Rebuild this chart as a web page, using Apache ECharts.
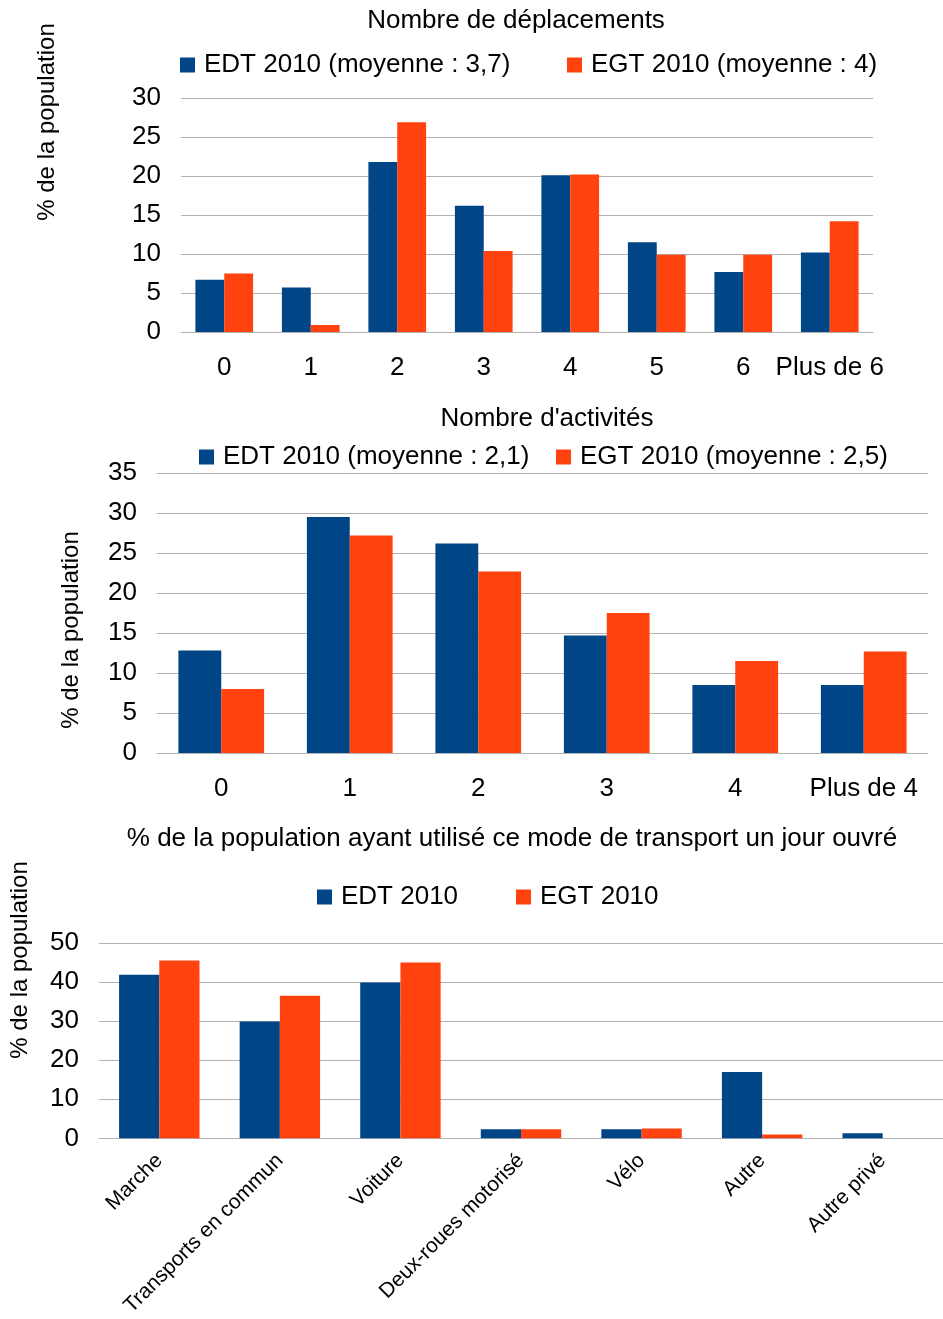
<!DOCTYPE html>
<html>
<head>
<meta charset="UTF-8">
<title>Déplacements EDT / EGT 2010</title>
<script type="text/javascript" src="https://cdn.jsdelivr.net/npm/echarts@6/dist/echarts.min.js"></script>
<style>
  body { margin: 0; background: #fff; }
</style>
</head>
<body>
	<div id="main" style="height:1319px;width:943px"></div>
<script type="text/javascript">
// les données
var catDepl = ['0', '1', '2', '3', '4', '5', '6', 'Plus de 6'];
var edtDepl = [6.7, 5.7, 21.8, 16.2, 20.1, 11.5, 7.7, 10.2];
var egtDepl = [7.5, 0.9, 26.9, 10.4, 20.2, 9.9, 9.9, 14.2];

var catActi = ['0', '1', '2', '3', '4', 'Plus de 4'];
var edtActi = [12.8, 29.5, 26.2, 14.7, 8.5, 8.5];
var egtActi = [8.0, 27.2, 22.7, 17.5, 11.5, 12.7];

var catMode = ['Marche', 'Transports en commun', 'Voiture', 'Deux-roues motorisé', 'Vélo', 'Autre', 'Autre privé'];
var edtMode = [41.9, 29.9, 39.9, 2.3, 2.3, 17.0, 1.3];
var egtMode = [45.5, 36.5, 45.0, 2.3, 2.5, 1.0, 0];

var titres = ['Nombre de déplacements', "Nombre d'activités", '% de la population ayant utilisé ce mode de transport un jour ouvré'];
var nomsEdt = ['EDT 2010 (moyenne : 3,7)', 'EDT 2010 (moyenne : 2,1)', 'EDT 2010'];
var nomsEgt = ['EGT 2010 (moyenne : 4)', 'EGT 2010 (moyenne : 2,5)', 'EGT 2010'];

var bleu = '#004586';
var rouge = '#ff420e';
var gris = '#b3b3b3';
var police = 'Liberation Sans';

var myChart = echarts.init(document.getElementById('main'));

function xAxe(idx, cats, rot) {
  return {
    type: 'category',
    gridIndex: idx,
    data: cats,
    axisLine: { lineStyle: { color: gris } },
    axisTick: { length: 10, lineStyle: { color: gris } },
    axisLabel: {
      color: '#000',
      fontFamily: police,
      fontSize: rot ? 21 : 26,
      rotate: rot || 0,
      margin: rot ? 19 : 23,
      interval: 0
    }
  };
}
function yAxe(idx, max) {
  return {
    type: 'value',
    gridIndex: idx,
    min: 0,
    max: max,
    interval: max == 50 ? 10 : 5,
    axisLine: { show: false },
    axisTick: { show: false },
    splitLine: { lineStyle: { color: gris } },
    axisLabel: { color: '#000', fontFamily: police, fontSize: 26, margin: 20 }
  };
}
function serie(name, idx, data, color) {
  return {
    name: name,
    type: 'bar',
    xAxisIndex: idx,
    yAxisIndex: idx,
    data: data,
    barGap: 0,
    barCategoryGap: '33.3%',
    itemStyle: { color: color }
  };
}
function legende(name, left, top) {
  return {
    data: [name],
    left: left,
    top: top,
    padding: 0,
    icon: 'rect',
    itemWidth: 15,
    itemHeight: 15,
    selectedMode: false,
    textStyle: { color: '#000', fontFamily: police, fontSize: 26, padding: [0, 0, 0, 4] }
  };
}
function titre(text, x, top) {
  return {
    text: text,
    left: x,
    top: top,
    padding: 0,
    textAlign: 'center',
    textStyle: { color: '#000', fontFamily: police, fontSize: 26, fontWeight: 'normal' }
  };
}
function nomAxe(x, y) {
  return {
    type: 'text',
    x: x,
    y: y,
    rotation: Math.PI / 2,
    style: {
      text: '% de la population',
      fill: '#000',
      font: '24px "Liberation Sans"',
      align: 'center',
      verticalAlign: 'middle'
    }
  };
}

option = {
  animation: false,
  title: [
    titre(titres[0], 516, 8),
    titre(titres[1], 547, 406),
    titre(titres[2], 512, 826)
  ],
  legend: [
    legende(nomsEdt[0], 180, 52),
    legende(nomsEgt[0], 567, 52),
    legende(nomsEdt[1], 199, 444),
    legende(nomsEgt[1], 556, 444),
    legende(nomsEdt[2], 317, 884),
    legende(nomsEgt[2], 516, 884)
  ],
  grid: [
    { left: 181, top: 98, width: 692, height: 234 },
    { left: 157, top: 473, width: 771, height: 280 },
    { left: 99, top: 943, right: 0, height: 197 }
  ],
  xAxis: [xAxe(0, catDepl), xAxe(1, catActi), xAxe(2, catMode, 45)],
  yAxis: [yAxe(0, 30), yAxe(1, 35), yAxe(2, 50)],
  graphic: [nomAxe(47, 122), nomAxe(71, 630), nomAxe(20, 960)],
  series: [
    serie(nomsEdt[0], 0, edtDepl, bleu),
    serie(nomsEgt[0], 0, egtDepl, rouge),
    serie(nomsEdt[1], 1, edtActi, bleu),
    serie(nomsEgt[1], 1, egtActi, rouge),
    serie(nomsEdt[2], 2, edtMode, bleu),
    serie(nomsEgt[2], 2, egtMode, rouge)
  ]
};
myChart.setOption(option);
</script>
</body>
</html>
